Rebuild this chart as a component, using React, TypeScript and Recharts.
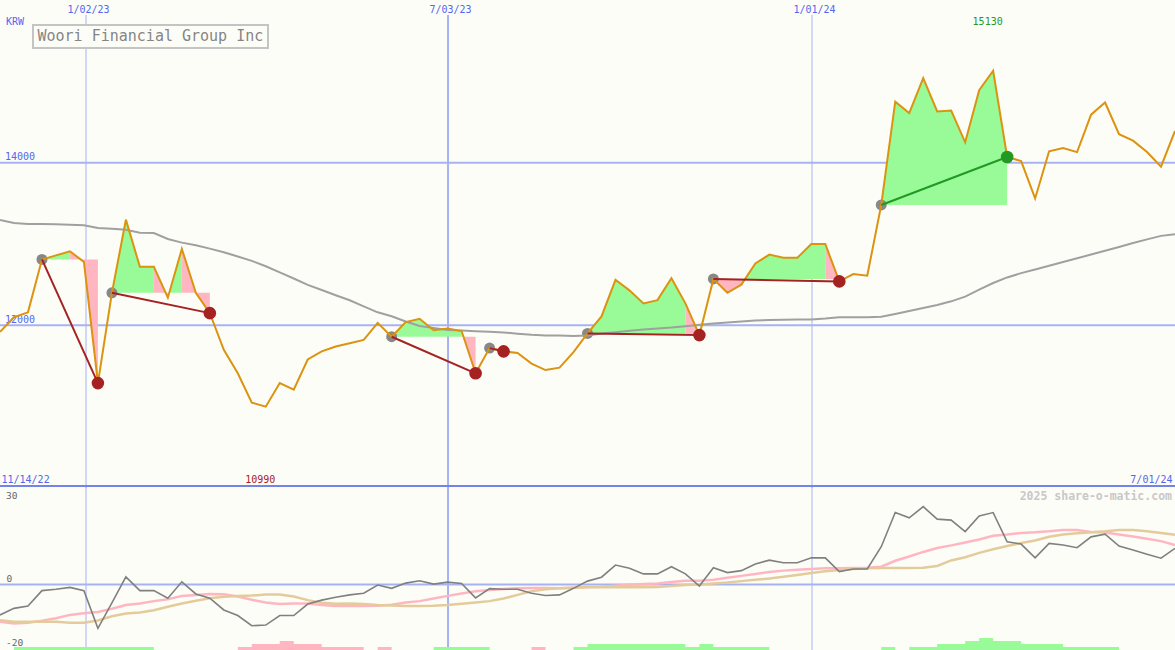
import React from "react";
import { ComposedChart, Line, Area, XAxis, YAxis, ReferenceLine, ReferenceDot } from "recharts";

// Woori Financial Group Inc, weekly closes (KRW) with trade signals and oscillator panel
const W = 1175;
const BG = "#fdfdf8";
const BLUE = "#5566ee";
const GRID = "#a6b2f2";
const EDGE = "#7383ea";
const GAIN = "#98fb98";
const DROP = "#ffb6c1";
const LOSS = "#a52222";
const WIN = "#229922";
const MONO = "'DejaVu Sans Mono', monospace";

// one value per week, week 0 = 11/21/22
const price = [
  11920, 12100, 12160, 12810, 12860, 12910, 12780, 11290, 12400, 13300,
  12720, 12720, 12340, 12940, 12400, 12150, 11700, 11410, 11050, 11000,
  11290, 11210, 11580, 11680, 11740, 11780, 11820, 12030, 11860, 12040,
  12080, 11940, 11960, 11930, 11410, 11720, 11680, 11660, 11530, 11450,
  11480, 11670, 11900, 12110, 12560, 12430, 12270, 12310, 12580, 12270,
  11880, 12570, 12400, 12500, 12760, 12870, 12830, 12830, 13000, 13000,
  12540, 12630, 12610, 13480, 14750, 14610, 15040, 14630, 14640, 14250,
  14890, 15130, 14070, 14020, 13560, 14140, 14180, 14130, 14590, 14740,
  14350, 14270, 14130, 13950, 14390,
];
const movingAvg = [
  13295, 13258, 13246, 13245, 13242, 13238, 13231, 13197, 13188, 13175,
  13139, 13135, 13062, 13017, 12984, 12943, 12898, 12846, 12793, 12726,
  12651, 12576, 12498, 12434, 12370, 12308, 12234, 12160, 12111, 12047,
  11993, 11967, 11943, 11935, 11928, 11922, 11913, 11898, 11885, 11876,
  11874, 11870, 11875, 11900, 11916, 11934, 11948, 11960, 11972, 11989,
  12008, 12023, 12035, 12047, 12060, 12066, 12068, 12071, 12073, 12084,
  12100, 12099, 12099, 12105, 12139, 12176, 12213, 12250, 12295, 12353,
  12438, 12520, 12589, 12642, 12686, 12733, 12779, 12824, 12870, 12916,
  12964, 13012, 13057, 13100, 13119,
];
const momentum = [
  -9.3, -7.3, -6.6, -1.9, -1.5, -0.9, -1.9, -13.4, -5.6, 2.3,
  -1.9, -1.9, -4.2, 0.8, -2.9, -4.2, -7.8, -9.5, -12.6, -12.4,
  -9.5, -9.5, -6.0, -4.8, -3.9, -3.2, -2.7, -0.2, -1.2, 0.4,
  1.1, 0.1, 0.7, 0.3, -4.1, -1.3, -1.5, -1.5, -2.7, -3.4,
  -3.2, -1.2, 1.0, 2.2, 5.9, 4.9, 3.2, 3.2, 5.4, 3.2,
  -0.5, 5.1, 3.6, 4.2, 6.2, 7.4, 6.6, 6.6, 8.1, 8.1,
  3.9, 4.7, 4.7, 11.5, 21.9, 20.3, 23.7, 19.9, 19.6, 16.1,
  20.9, 21.9, 13.0, 12.3, 8.1, 12.5, 12.0, 11.2, 14.5, 15.3,
  11.7, 10.5, 9.2, 8.0, 11.0,
];
const momFast = [
  -11.4, -11.9, -11.7, -11.1, -10.3, -9.3, -8.8, -8.4, -7.4, -6.3,
  -5.8, -5.1, -4.5, -3.5, -3.2, -2.9, -3.0, -3.7, -4.7, -5.5,
  -6.0, -5.8, -5.8, -6.3, -6.6, -6.6, -6.6, -6.5, -6.2, -5.5,
  -5.1, -4.3, -3.5, -2.8, -2.1, -1.7, -1.4, -1.2, -1.1, -1.1,
  -1.2, -1.0, -0.8, -0.7, -0.4, -0.1, 0.1, 0.3, 0.7, 1.1,
  1.1, 1.4, 2.0, 2.6, 3.2, 3.8, 4.2, 4.5, 4.7, 4.9,
  4.9, 5.0, 5.1, 5.4, 7.2, 8.5, 9.9, 11.1, 11.9, 12.8,
  13.7, 14.8, 15.2, 15.7, 15.9, 16.2, 16.6, 16.6, 16.0, 15.8,
  15.2, 14.6, 13.9, 13.2, 12.0,
];
const momSlow = [
  -10.9, -11.4, -11.4, -11.4, -11.4, -11.7, -11.7, -11.0, -9.7, -8.9,
  -8.6, -7.9, -6.8, -5.8, -5.0, -4.2, -3.8, -3.5, -3.4, -3.1,
  -3.1, -3.7, -4.8, -5.6, -5.9, -5.8, -6.0, -6.3, -6.4, -6.6,
  -6.6, -6.5, -6.3, -5.9, -5.5, -5.1, -4.3, -3.2, -2.1, -1.5,
  -1.2, -1.0, -0.9, -0.9, -0.9, -0.9, -0.9, -0.8, -0.5, -0.2,
  0.0, 0.3, 0.6, 1.0, 1.4, 1.8, 2.3, 2.9, 3.5, 4.0,
  4.4, 4.7, 4.9, 5.0, 5.0, 5.0, 5.1, 5.6, 7.3, 8.3,
  9.6, 10.7, 11.7, 12.6, 13.4, 14.5, 15.2, 15.6, 15.9, 16.2,
  16.6, 16.6, 16.2, 15.7, 15.1,
];
// signed strength bars at the bottom (+ green, - pink), one per week
const strength = [
  0, 1, 1, 1, 1, 1, 1, 1, 1, 1, 1,
  0, 0, 0, 0, 0, 0,
  -1, -2, -2, -3, -2, -2, -1, -1, -1,
  0, -1, 0, 0, 0,
  1, 1, 1, 1,
  0, 0, 0, -1, 0, 0,
  1, 2, 2, 2, 2, 2, 2, 2, 1, 2, 1, 1, 1, 1,
  0, 0, 0, 0, 0, 0, 0, 0,
  1, 0, 1, 1, 2, 2, 3, 4, 3, 3, 2, 2, 2, 1, 1, 1, 1,
  0, 0, 0, 0, 0,
];
// trades: entry week -> exit week
const trades = [
  { entry: 3, exit: 7 },
  { entry: 8, exit: 15 },
  { entry: 28, exit: 34 },
  { entry: 35, exit: 36 },
  { entry: 42, exit: 50 },
  { entry: 51, exit: 60 },
  { entry: 63, exit: 72 },
];
const dateLines = [
  { label: "1/02/23", week: 6.15 },
  { label: "7/03/23", week: 32.03 },
  { label: "1/01/24", week: 58.05 },
];
const priceLines = [14000, 12000];
const firstDate = "11/14/22";
const lastDate = "7/01/24";
const highLabel = "15130";
const lowLabel = "10990";

const rows = price.map((p, k) => ({
  k,
  price: p,
  ma: movingAvg[k],
  mom: momentum[k],
  fast: momFast[k],
  slow: momSlow[k],
  up: Math.max(0, strength[k]),
  down: Math.max(0, -strength[k]),
}));

// coloured bands between price and the entry level while a trade is open
type Run = { from: number; to: number; base: number; color: string };
const runs: Run[] = [];
for (const t of trades) {
  const base = price[t.entry];
  for (let k = t.entry; k < t.exit; k++) {
    const color = price[k + 1] > base ? GAIN : DROP;
    const last = runs[runs.length - 1];
    if (last && last.to === k && last.color === color && last.base === base) last.to = k + 1;
    else runs.push({ from: k, to: k + 1, base, color });
  }
}

const hiK = price.indexOf(Math.max(...price));
const loK = price.indexOf(Math.min(...price));

type TagOpt = { dx?: number; dy?: number; fill?: string; anchor?: string; size?: number; bottom?: boolean; right?: boolean };
const tag = (value: string, o: TagOpt = {}) => (p: any) => {
  const vb = p.viewBox || { x: 0, y: 0, width: 0, height: 0 };
  const x = vb.x + (o.right ? vb.width : 0) + (o.dx ?? 0);
  const y = vb.y + (o.bottom ? vb.height : 0) + (o.dy ?? 0);
  return (
    <text x={x} y={y} fill={o.fill ?? BLUE} fontSize={o.size ?? 10} fontFamily={MONO} textAnchor={o.anchor ?? "start"}>
      {value}
    </text>
  );
};

export default function App() {
  return (
    <div style={{ position: "absolute", left: 0, top: 0, width: W, height: 650, background: BG, overflow: "hidden" }}>
      <div style={{ position: "absolute", left: 0, top: 0 }}>
        <ComposedChart width={W} height={488} data={rows} margin={{ top: 0, right: 0, bottom: 0, left: 0 }}>
          <XAxis type="number" dataKey="k" domain={[0, 84]} hide />
          <YAxis domain={[10000, 16000]} hide />
          {priceLines.map((v) => (
            <ReferenceLine key={v} y={v} stroke={GRID} strokeWidth={2} zIndex={50} label={tag(String(v), { dx: 5, dy: -2.5 })} />
          ))}
          {dateLines.map((d) => (
            <ReferenceLine
              key={d.label}
              segment={[{ x: d.week, y: 15816 }, { x: d.week, y: 10000 }]}
              stroke={GRID}
              strokeWidth={d.label.startsWith("7/") ? 2 : 1}
              zIndex={50}
              label={tag(d.label, { dx: 2.5, dy: -1.7, anchor: "middle" })}
            />
          ))}
          <ReferenceLine y={10000} stroke="none" label={tag(firstDate, { dx: 1.5, dy: -5.3 })} />
          <ReferenceLine y={10000} stroke="none" label={tag(lastDate, { right: true, dx: -2.5, dy: -5.3, anchor: "end" })} />
          <ReferenceLine x={hiK} stroke="none" label={tag(highLabel, { dx: -5.5, dy: 25, anchor: "middle", fill: WIN })} />
          <ReferenceLine x={loK} stroke="none" label={tag(lowLabel, { bottom: true, dx: -5.5, dy: -5.3, anchor: "middle", fill: LOSS })} />
          {runs.map((r, i) => (
            <Area
              key={`band${i}`}
              name={`band${i}`}
              type="linear"
              dataKey={(row: any) => (row.k >= r.from && row.k <= r.to ? [r.base, row.price] : null)}
              fill={r.color}
              fillOpacity={1}
              stroke="none"
              dot={false}
              activeDot={false}
              isAnimationActive={false}
            />
          ))}
          <Line type="linear" dataKey="ma" stroke="#a0a0a0" strokeWidth={2} dot={false} activeDot={false} isAnimationActive={false} />
          {trades.map((t) => (
            <ReferenceDot key={`in${t.entry}`} x={t.entry} y={price[t.entry]} r={5.5} fill="#888888" stroke="none" zIndex={300} />
          ))}
          <Line type="linear" dataKey="price" stroke="#db9310" strokeWidth={2} dot={false} activeDot={false} isAnimationActive={false} />
          {trades.map((t) => (
            <Line
              key={`tr${t.entry}`}
              name={`trade${t.entry}`}
              type="linear"
              dataKey={(row: any) => (row.k === t.entry || row.k === t.exit ? row.price : null)}
              connectNulls
              stroke={price[t.exit] > price[t.entry] ? WIN : LOSS}
              strokeWidth={2}
              dot={false}
              activeDot={false}
              zIndex={450}
              isAnimationActive={false}
            />
          ))}
          {trades.map((t) => (
            <ReferenceDot
              key={`out${t.exit}`}
              x={t.exit}
              y={price[t.exit]}
              r={6.3}
              fill={price[t.exit] > price[t.entry] ? WIN : LOSS}
              stroke="none"
              zIndex={600}
            />
          ))}
        </ComposedChart>
      </div>
      <div style={{ position: "absolute", left: 0, top: 482 }}>
        <ComposedChart width={W} height={168} data={rows} margin={{ top: 4, right: 0, bottom: 0, left: 0 }}>
          <XAxis type="number" dataKey="k" domain={[0, 84]} hide />
          <YAxis yAxisId="mom" domain={[-20, 30]} hide />
          <YAxis yAxisId="bar" domain={[0, 55]} hide />
          {dateLines.map((d) => (
            <ReferenceLine key={d.label} yAxisId="mom" x={d.week} stroke={GRID} strokeWidth={d.label.startsWith("7/") ? 2 : 1} zIndex={50} />
          ))}
          <ReferenceLine yAxisId="mom" y={0} stroke={GRID} strokeWidth={2} zIndex={50} label={tag("0", { dx: 6.5, dy: -2.7, fill: "#666", size: 9.5 })} />
          <ReferenceLine yAxisId="mom" y={30} stroke={EDGE} strokeWidth={2} label={tag("30", { dx: 6, dy: 13.3, fill: "#666", size: 9.5 })} />
          <ReferenceLine yAxisId="mom" y={-20} stroke="none" label={tag("-20", { dx: 6, dy: -4.3, fill: "#666", size: 9.5 })} />
          <Area yAxisId="bar" type="stepAfter" dataKey="up" fill={GAIN} fillOpacity={1} stroke="none" dot={false} activeDot={false} isAnimationActive={false} />
          <Area yAxisId="bar" type="stepAfter" dataKey="down" fill={DROP} fillOpacity={1} stroke="none" dot={false} activeDot={false} isAnimationActive={false} />
          <Line yAxisId="mom" type="linear" dataKey="fast" stroke={DROP} strokeWidth={2.5} dot={false} activeDot={false} isAnimationActive={false} />
          <Line yAxisId="mom" type="linear" dataKey="slow" stroke="#e3cb9b" strokeWidth={2.5} dot={false} activeDot={false} isAnimationActive={false} />
          <Line yAxisId="mom" type="linear" dataKey="mom" stroke="#808080" strokeWidth={1.6} dot={false} activeDot={false} isAnimationActive={false} />
        </ComposedChart>
      </div>
      <svg width={W} height={650} style={{ position: "absolute", left: 0, top: 0, pointerEvents: "none" }}>
        <text x={6} y={24.5} fill={BLUE} fontSize={10} fontFamily={MONO}>KRW</text>
        <rect x={33} y={25} width={235} height={23} fill={BG} stroke="#c4c4c4" strokeWidth={2} />
        <text x={37.5} y={41} fill="#858585" fontSize={15} fontFamily={MONO}>Woori Financial Group Inc</text>
        <text x={1172} y={500} fill="#c8c8c8" fontSize={11.5} fontWeight="bold" fontFamily={MONO} textAnchor="end">2025 share-o-matic.com</text>
      </svg>
    </div>
  );
}
